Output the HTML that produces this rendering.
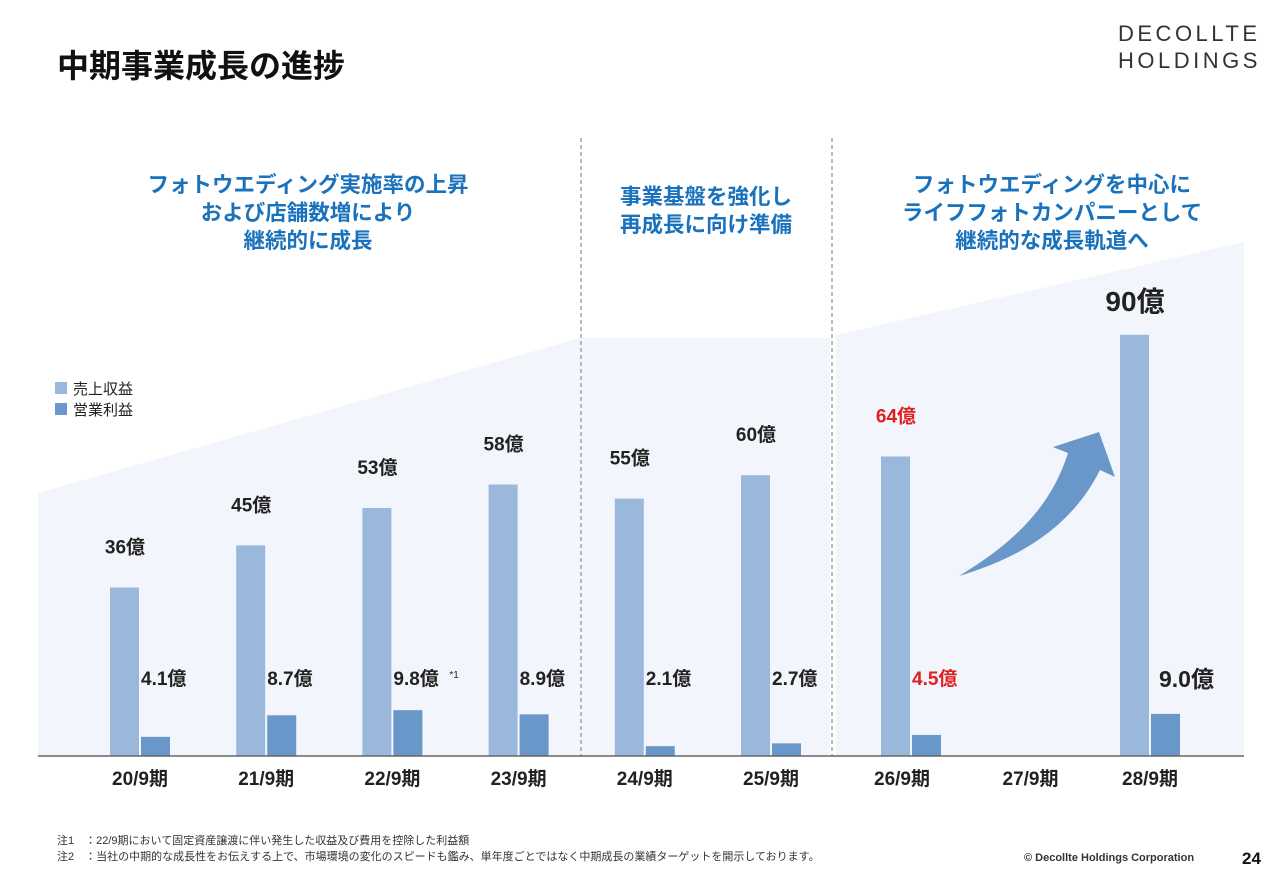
<!DOCTYPE html>
<html><head><meta charset="utf-8"><style>
body{margin:0;width:1280px;height:886px;background:#fff;overflow:hidden;font-family:"Liberation Sans","Noto Sans CJK JP",sans-serif;position:relative}
.t{position:absolute;white-space:nowrap}
.h{color:#1a72bd;font-weight:bold;font-size:21.5px;text-align:center;line-height:28px}
</style></head><body>
<div class="t" style="left:57px;top:41px;font-size:32px;font-weight:bold;color:#111">中期事業成長の進捗</div>
<div class="t" style="left:1118px;top:20px;font-size:22px;letter-spacing:3.5px;line-height:27px;color:#333">DECOLLTE<br>HOLDINGS</div>
<div class="t h" style="left:98px;width:420px;top:171px">フォトウエディング実施率の上昇<br>および店舗数増により<br>継続的に成長</div>
<div class="t h" style="left:586px;width:240px;top:183px">事業基盤を強化し<br>再成長に向け準備</div>
<div class="t h" style="left:852px;width:400px;top:171px">フォトウエディングを中心に<br>ライフフォトカンパニーとして<br>継続的な成長軌道へ</div>
<svg id="c" width="1280" height="886" style="position:absolute;left:0;top:0">
<polygon points="38,493 580,338 830,338 830,756 38,756" fill="#f2f5fb"/>
<polygon points="836,335 1244,242 1244,756 836,756" fill="#f2f5fb"/>
<line x1="581" y1="138" x2="581" y2="756" stroke="#777" stroke-dasharray="4,3"/>
<line x1="832" y1="138" x2="832" y2="756" stroke="#777" stroke-dasharray="4,3"/>
<path d="M959,576 C1010,545 1050,510 1068,453 L1053,447 L1099,432 L1115,477 L1100,470 C1075,520 1030,555 959,576 Z" fill="#6a97c9"/>
<rect x="55" y="382" width="12" height="12" fill="#9ab8db"/><rect x="55" y="403" width="12" height="12" fill="#6a97c9"/>
<text x="73" y="394" font-size="15" fill="#222">売上収益</text><text x="73" y="415" font-size="15" fill="#222">営業利益</text>
<g id="g"></g>
<line x1="38" y1="756" x2="1244" y2="756" stroke="#666" stroke-width="1.5"/>
</svg>
<div class="t" style="left:57px;top:832px;font-size:11px;color:#333">注1　：22/9期において固定資産譲渡に伴い発生した収益及び費用を控除した利益額</div>
<div class="t" style="left:57px;top:848px;font-size:11px;color:#333">注2　：当社の中期的な成長性をお伝えする上で、市場環境の変化のスピードも鑑み、単年度ごとではなく中期成長の業績ターゲットを開示しております。</div>
<div class="t" style="left:1024px;top:852px;font-size:11px;font-weight:bold;color:#333">© Decollte Holdings Corporation</div>
<div class="t" style="left:1242px;top:849px;font-size:17px;font-weight:bold;color:#111">24</div>
<script>
const categories=["20/9期","21/9期","22/9期","23/9期","24/9期","25/9期","26/9期","27/9期","28/9期"];
const revenue=[36,45,53,58,55,60,64,null,90];
const opProfit=[4.1,8.7,9.8,8.9,2.1,2.7,4.5,null,9.0];
const revLabels=["36億","45億","53億","58億","55億","60億","64億","","90億"];
const opLabels=["4.1億","8.7億","9.8億","8.9億","2.1億","2.7億","4.5億","","9.0億"];
const base=756,k=4.68;
const y=v=>base-v*k;
const cx=i=>i<6?140+126.2*i:911+119.5*(i-6);
const g=document.getElementById('g'),NS='http://www.w3.org/2000/svg';
function mk(t,a){const e=document.createElementNS(NS,t);for(const n in a)e.setAttribute(n,a[n]);g.appendChild(e);return e;}
categories.forEach((c,i)=>{
 const x=cx(i);
 const lx=i==6?x-9:x;
 const l=mk('text',{x:lx,y:785,'font-size':19,'font-weight':'bold','text-anchor':'middle',fill:'#222'});l.textContent=c;
 
 
 if(revenue[i]==null)return;
 const red=i==6,col=red?'#e02020':'#222';
 const r=mk('rect',{x:x-30,y:y(revenue[i]),width:29,height:revenue[i]*k,fill:'#9ab8db'});
 
 
 const o=mk('rect',{x:x+1,y:y(opProfit[i]),width:29,height:opProfit[i]*k,fill:'#6a97c9'});
 
 
 const big=i==8;
 const rl=mk('text',{x:x-15,y:y(revenue[i])-(big?24:34),'font-size':big?28:19,'font-weight':'bold','text-anchor':'middle',fill:col});rl.textContent=revLabels[i];
 
 
 const ol=mk('text',{x:big?x+9:x+1,y:big?687:685,'font-size':big?23:19,'font-weight':'bold',fill:col});ol.textContent=opLabels[i];
 
 
 if(i==2){const s=mk('text',{x:x+57,y:678,'font-size':10,fill:'#222'});s.textContent='*1';}
});
</script>
</body></html>
